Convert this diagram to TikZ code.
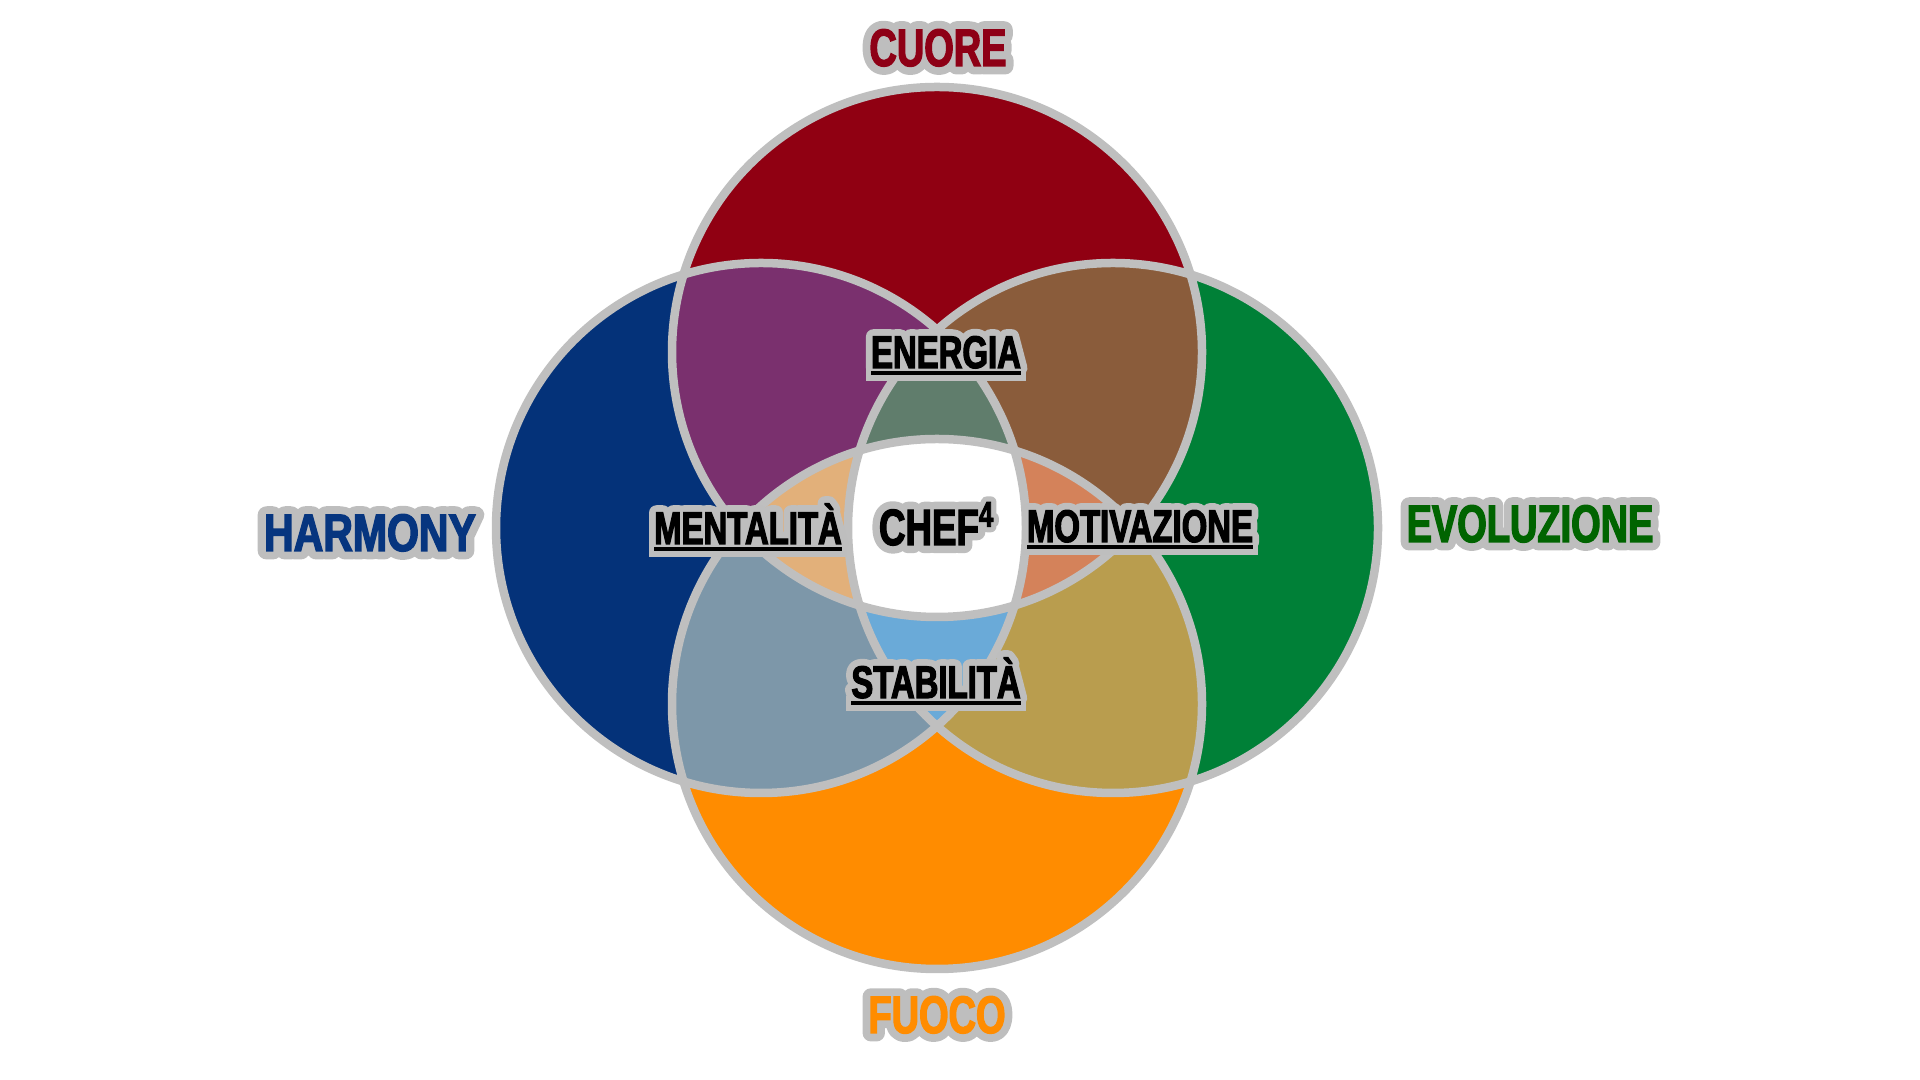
\documentclass[tikz,border=0pt]{standalone}
\usepackage{fontspec}
\newfontfamily\labelfont{Liberation Sans}[FakeStretch=0.72,BoldFeatures={FakeBold=2.5}]
\newfontfamily\halofont{Liberation Sans}[FakeStretch=0.72,BoldFeatures={FakeBold=32}]

\definecolor{ringgray}{HTML}{BFBFBF}
\definecolor{halogray}{HTML}{BEBEBE}
\definecolor{cuore}{HTML}{900012}
\definecolor{harmony}{HTML}{043279}
\definecolor{evoluz}{HTML}{008037}
\definecolor{fuoco}{HTML}{FF8C00}
\definecolor{cuoretext}{HTML}{8E0016}
\definecolor{harmonytext}{HTML}{06357F}
\definecolor{evoluztext}{HTML}{006400}
\definecolor{topleft}{HTML}{7A306E}
\definecolor{topright}{HTML}{8A5C3B}
\definecolor{botleft}{HTML}{7D97A9}
\definecolor{botright}{HTML}{B99D4E}
\definecolor{energia}{HTML}{607D6C}
\definecolor{stabil}{HTML}{6AAAD8}
\definecolor{mental}{HTML}{E2B07A}
\definecolor{motiv}{HTML}{D4825A}

\newsavebox\ulbox
\newlength\ulpad
\newcommand\thickul[1]{\sbox\ulbox{#1}\rlap{\usebox\ulbox}\kern-\ulpad
  \rule[\dimexpr-0.16em-\ulpad]{\dimexpr\wd\ulbox+2\ulpad}{\dimexpr0.09em+2\ulpad}\kern-\ulpad}

% name, position, colour, style, text
\newcommand\halolabel[5]{%
  \node[#4, text=halogray, halo] at (#2) {#5};
  \node[#4, text=#3] (#1) at (#2) {#5};
}

\def\rad{2.65}

\begin{document}
\begin{tikzpicture}[
    ring/.style={draw=ringgray, line width=0.085cm},
    halo/.style={line join=round, execute at begin node={\halofont\bfseries\setlength\ulpad{1.5pt}}},
    outerlbl/.style={anchor=base, inner sep=0pt, font=\labelfont\bfseries\fontsize{15}{18}\selectfont},
    innerlbl/.style={anchor=base, inner sep=0pt, font=\labelfont\bfseries\fontsize{13}{16}\selectfont},
    cheflbl/.style={anchor=base, inner sep=0pt, font=\labelfont\bfseries\fontsize{14.5}{17}\selectfont}]
  \useasboundingbox (0,0) rectangle (19.2,10.8);

  % centres of the four circles
  \coordinate (T) at (9.37,7.28);
  \coordinate (B) at (9.37,3.76);
  \coordinate (L) at (7.61,5.52);
  \coordinate (R) at (11.13,5.52);

  % single circles
  \fill[cuore] (T) circle (\rad);
  \fill[harmony] (L) circle (\rad);
  \fill[evoluz] (R) circle (\rad);
  \fill[fuoco] (B) circle (\rad);

  % overlaps of two
  \begin{scope}
    \clip (T) circle (\rad);
    \fill[topleft] (L) circle (\rad);
    \fill[topright] (R) circle (\rad);
  \end{scope}
  \begin{scope}
    \clip (B) circle (\rad);
    \fill[botleft] (L) circle (\rad);
    \fill[botright] (R) circle (\rad);
  \end{scope}

  % overlaps of three
  \begin{scope}
    \clip (L) circle (\rad);
    \clip (R) circle (\rad);
    \fill[energia] (T) circle (\rad);
    \fill[stabil] (B) circle (\rad);
  \end{scope}
  \begin{scope}
    \clip (T) circle (\rad);
    \clip (B) circle (\rad);
    \fill[mental] (L) circle (\rad);
    \fill[motiv] (R) circle (\rad);
  \end{scope}

  % centre, all four
  \begin{scope}
    \clip (T) circle (\rad);
    \clip (B) circle (\rad);
    \clip (L) circle (\rad);
    \fill[white] (R) circle (\rad);
  \end{scope}

  \foreach \c in {T,L,R,B}
    \draw[ring] (\c) circle (\rad);

  % outer labels
  \halolabel{cuorelbl}{9.38,10.14}{cuoretext}{outerlbl}{CUORE}
  \halolabel{harmonylbl}{3.70,5.29}{harmonytext}{outerlbl}{\scalebox{1.08}[1]{HARMONY}}
  \halolabel{evoluzlbl}{15.30,5.38}{evoluztext}{outerlbl}{EVOLUZIONE}
  \halolabel{fuocolbl}{9.37,0.47}{fuoco}{outerlbl}{FUOCO}

  % inner labels
  \halolabel{energialbl}{9.46,7.12}{black}{innerlbl}{\thickul{ENERGIA}}
  \halolabel{mentallbl}{7.48,5.36}{black}{innerlbl}{\thickul{MENTALITÀ}}
  \halolabel{motivlbl}{11.40,5.38}{black}{innerlbl}{\thickul{MOTIVAZIONE}}
  \halolabel{stabillbl}{9.36,3.82}{black}{innerlbl}{\thickul{STABILITÀ}}
  \halolabel{cheflbl}{9.37,5.35}{black}{cheflbl}{CHEF\textsuperscript{4}}
\end{tikzpicture}
\end{document}
